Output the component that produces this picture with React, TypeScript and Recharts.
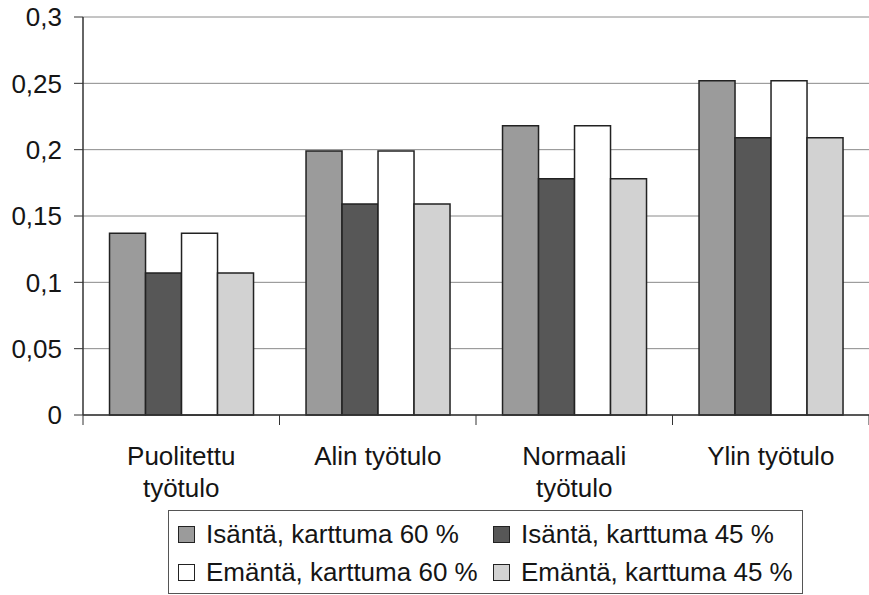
import React from "react";
import { BarChart, Bar, XAxis, YAxis, CartesianGrid, Legend } from "recharts";

const categories = ["Puolitettu työtulo", "Alin työtulo", "Normaali työtulo", "Ylin työtulo"];
const isanta60 = [0.137, 0.199, 0.218, 0.252];
const isanta45 = [0.107, 0.159, 0.178, 0.209];
const emanta60 = [0.137, 0.199, 0.218, 0.252];
const emanta45 = [0.107, 0.159, 0.178, 0.209];
const yTicks = [0, 0.05, 0.1, 0.15, 0.2, 0.25, 0.3];

const series = [
  { key: "isanta60", name: "Isäntä, karttuma 60 %", fill: "#9b9b9b" },
  { key: "isanta45", name: "Isäntä, karttuma 45 %", fill: "#575757" },
  { key: "emanta60", name: "Emäntä, karttuma 60 %", fill: "#ffffff" },
  { key: "emanta45", name: "Emäntä, karttuma 45 %", fill: "#d2d2d2" },
];

const data = categories.map((c, i) => ({
  name: c,
  isanta60: isanta60[i],
  isanta45: isanta45[i],
  emanta60: emanta60[i],
  emanta45: emanta45[i],
}));

const FONT = "'Liberation Sans', Arial, Helvetica, sans-serif";
const TEXT = "#151515";
const BAND = (869 - 83) / categories.length;

function wrapLabel(s: string) {
  // Excel wrapped the longer labels to two lines
  const words = s.split(" ");
  if (s.length > 13 && words.length > 1) return [words.slice(0, -1).join(" "), words[words.length - 1]];
  return [s];
}

function XTick(props: any) {
  const { x, y, payload, index } = props;
  const half = payload?.offset || BAND / 2;
  const lines = wrapLabel(String(payload.value));
  return (
    <g>
      <line x1={x - half} y1={y} x2={x - half} y2={y + 10} stroke="#333" strokeWidth={1} />
      {index === categories.length - 1 && (
        <line x1={x + half} y1={y} x2={x + half} y2={y + 10} stroke="#333" strokeWidth={1} />
      )}
      {lines.map((l, i) => (
        <text key={i} x={x} y={y + 50 + i * 32} textAnchor="middle" fontSize={26} fill={TEXT} fontFamily={FONT}>
          {l}
        </text>
      ))}
    </g>
  );
}

function LegendBox() {
  return (
    <div
      style={{
        border: "1.5px solid #555",
        width: 635,
        height: 84,
        boxSizing: "border-box",
        display: "grid",
        gridTemplateColumns: "315px 310px",
        gridTemplateRows: "38px 38px",
        alignItems: "center",
        paddingLeft: 9,
        paddingTop: 4,
        fontFamily: FONT,
        fontSize: 26,
        color: TEXT,
      }}
    >
      {series.map((s) => (
        <div key={s.key} style={{ display: "flex", alignItems: "center", whiteSpace: "nowrap" }}>
          <span
            style={{
              display: "inline-block",
              width: 17,
              height: 17,
              boxSizing: "border-box",
              background: s.fill,
              border: "1.5px solid #222",
              marginRight: 11,
            }}
          />
          {s.name}
        </div>
      ))}
    </div>
  );
}

export default function App() {
  return (
    <div style={{ position: "absolute", left: 0, top: 0, width: 869, height: 595, background: "#fff" }}>
      <BarChart
        width={869}
        height={595}
        data={data}
        margin={{ top: 17, right: 0, left: 0, bottom: 0 }}
        barCategoryGap="13.5%"
        barGap={0}
      >
        <CartesianGrid vertical={false} stroke="#8a8a8a" strokeWidth={1} />
        <YAxis
          width={83}
          domain={[0, 0.3]}
          ticks={yTicks}
          interval={0}
          tickFormatter={(v: number) => String(v).replace(".", ",")}
          tick={{ fontSize: 26, fill: TEXT, fontFamily: FONT }}
          tickSize={9}
          tickMargin={12}
          tickLine={{ stroke: "#333" }}
          axisLine={{ stroke: "#333", strokeWidth: 1.5 }}
        />
        <XAxis
          dataKey="name"
          height={96}
          interval={0}
          tick={<XTick />}
          tickSize={0}
          tickMargin={0}
          tickLine={false}
          axisLine={{ stroke: "#333", strokeWidth: 1.5 }}
        />
        <Legend
          content={() => <LegendBox />}
          wrapperStyle={{ position: "absolute", left: 168, top: 510, width: 640 }}
        />
        {series.map((s) => (
          <Bar
            key={s.key}
            dataKey={s.key}
            name={s.name}
            fill={s.fill}
            stroke="#222"
            strokeWidth={1.5}
            isAnimationActive={false}
          />
        ))}
      </BarChart>
    </div>
  );
}
